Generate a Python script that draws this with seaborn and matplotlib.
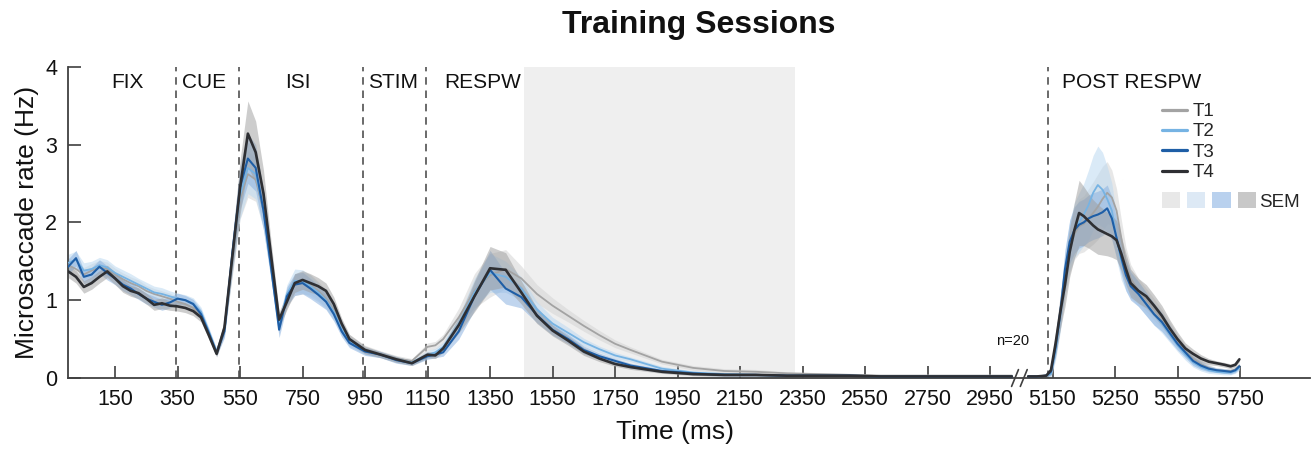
import numpy as np
import pandas as pd
import matplotlib
matplotlib.use("Agg")
import matplotlib.pyplot as plt
import matplotlib.transforms as mtransforms
import seaborn as sns
from matplotlib.lines import Line2D
from matplotlib.patches import Patch
from matplotlib.legend_handler import HandlerTuple

sns.set_style("ticks")
plt.rcParams["font.family"] = ["Liberation Sans", "DejaVu Sans"]

# ---------------- data ----------------
sessions = ["T1", "T2", "T3", "T4"]

# time before the axis break (ms)
t_pre = [0, 25, 50, 75, 100, 125, 150, 175, 200, 225, 250, 275, 300, 325, 350, 375, 400,
         425, 450, 475, 500, 525, 550, 575, 600, 625, 650, 675, 700, 725, 750, 775, 800,
         825, 850, 875, 900,
         950, 1000, 1050, 1100, 1150,
         1175, 1200,
         1250, 1300, 1350, 1400, 1450, 1500, 1550, 1600, 1650, 1700, 1750, 1800,
         1900, 2000, 2100, 2200, 2300, 2400, 2500, 2600, 2700, 2800, 2900,
         3020]

# positions after the axis break (axis units)
t_post = [3072, 3100, 3130,
          3145, 3160, 3175, 3190, 3205, 3220, 3235, 3250, 3265, 3280, 3295, 3310, 3325,
          3340, 3355, 3370, 3385, 3400,
          3425, 3450, 3475, 3500, 3525, 3550, 3575, 3600, 3625, 3650, 3675, 3700,
          3720, 3735, 3748]

T1_pre = [1.45, 1.40, 1.33, 1.38, 1.42, 1.40, 1.33, 1.27, 1.22, 1.18, 1.12, 1.08, 1.05, 1.02,
          0.98, 0.95, 0.90, 0.80, 0.57, 0.33, 0.65, 1.50, 2.30, 2.62, 2.55, 2.15, 1.45, 0.72,
          1.02, 1.20, 1.22, 1.20, 1.12, 1.02, 0.88, 0.66, 0.50,
          0.37, 0.31, 0.25, 0.22, 0.40,
          0.42, 0.50,
          0.78, 1.12, 1.32, 1.40, 1.28, 1.08, 0.93, 0.80, 0.67, 0.55, 0.44, 0.36,
          0.21, 0.13, 0.09, 0.08, 0.06, 0.05, 0.04, 0.03, 0.03, 0.03, 0.03,
          0.03]
T2_pre = [1.48, 1.52, 1.38, 1.40, 1.45, 1.42, 1.35, 1.30, 1.25, 1.20, 1.15, 1.10, 1.08, 1.05,
          1.02, 1.00, 0.96, 0.85, 0.60, 0.34, 0.62, 1.55, 2.35, 2.70, 2.62, 2.15, 1.40, 0.68,
          1.08, 1.25, 1.24, 1.18, 1.10, 1.00, 0.85, 0.63, 0.47,
          0.35, 0.30, 0.24, 0.20, 0.30,
          0.33, 0.40,
          0.70, 1.10, 1.35, 1.30, 1.15, 0.88, 0.70, 0.58, 0.46, 0.37, 0.29, 0.24,
          0.12, 0.07, 0.05, 0.04, 0.03, 0.03, 0.03, 0.02, 0.02, 0.02, 0.02,
          0.02]
T3_pre = [1.43, 1.54, 1.30, 1.33, 1.43, 1.35, 1.28, 1.20, 1.15, 1.08, 1.02, 0.98, 0.94, 0.97,
          1.02, 1.00, 0.95, 0.82, 0.58, 0.32, 0.60, 1.60, 2.45, 2.82, 2.70, 2.15, 1.40, 0.62,
          1.05, 1.20, 1.22, 1.15, 1.07, 0.98, 0.82, 0.60, 0.45,
          0.34, 0.30, 0.23, 0.19, 0.28,
          0.30, 0.33,
          0.60, 1.05, 1.39, 1.15, 1.04, 0.81, 0.62, 0.50, 0.36, 0.28, 0.22, 0.16,
          0.09, 0.06, 0.04, 0.04, 0.03, 0.03, 0.03, 0.02, 0.02, 0.02, 0.02,
          0.02]
T4_pre = [1.37, 1.30, 1.17, 1.22, 1.30, 1.37, 1.28, 1.18, 1.12, 1.09, 1.02, 0.94, 0.96, 0.93,
          0.92, 0.90, 0.86, 0.78, 0.55, 0.31, 0.65, 1.55, 2.45, 3.14, 2.90, 2.37, 1.55, 0.75,
          0.98, 1.22, 1.26, 1.22, 1.18, 1.12, 0.95, 0.70, 0.50,
          0.36, 0.30, 0.24, 0.19, 0.30,
          0.29, 0.38,
          0.68, 1.05, 1.41, 1.39, 1.10, 0.80, 0.61, 0.48, 0.34, 0.25, 0.18, 0.14,
          0.08, 0.05, 0.04, 0.04, 0.03, 0.03, 0.03, 0.02, 0.02, 0.02, 0.02,
          0.02]

T1_sem_pre = [0.10, 0.10, 0.09, 0.09, 0.09, 0.09, 0.08, 0.08, 0.08, 0.08, 0.07, 0.07, 0.07, 0.07,
              0.06, 0.06, 0.06, 0.06, 0.05, 0.04, 0.08, 0.20, 0.26, 0.30, 0.28, 0.22, 0.15, 0.10,
              0.12, 0.14, 0.14, 0.13, 0.12, 0.11, 0.09, 0.07, 0.06,
              0.05, 0.04, 0.04, 0.03, 0.05,
              0.05, 0.06,
              0.12, 0.22, 0.28, 0.25, 0.16, 0.12, 0.10, 0.08, 0.07, 0.06, 0.05, 0.04,
              0.03, 0.03, 0.03, 0.03, 0.02, 0.02, 0.02, 0.02, 0.02, 0.02, 0.02,
              0.02]
T2_sem_pre = [0.11, 0.11, 0.10, 0.10, 0.10, 0.10, 0.09, 0.09, 0.09, 0.08, 0.08, 0.08, 0.08, 0.07,
              0.07, 0.07, 0.07, 0.06, 0.05, 0.04, 0.08, 0.22, 0.30, 0.33, 0.32, 0.25, 0.16, 0.10,
              0.12, 0.15, 0.15, 0.14, 0.12, 0.11, 0.10, 0.08, 0.06,
              0.05, 0.04, 0.04, 0.03, 0.05,
              0.05, 0.06,
              0.10, 0.18, 0.25, 0.20, 0.15, 0.10, 0.08, 0.07, 0.05, 0.04, 0.04, 0.03,
              0.03, 0.02, 0.02, 0.02, 0.02, 0.02, 0.02, 0.02, 0.02, 0.02, 0.02,
              0.02]
T3_sem_pre = [0.10, 0.10, 0.09, 0.09, 0.09, 0.09, 0.08, 0.08, 0.08, 0.07, 0.07, 0.07, 0.07, 0.07,
              0.07, 0.06, 0.06, 0.06, 0.05, 0.04, 0.08, 0.20, 0.28, 0.32, 0.30, 0.25, 0.16, 0.10,
              0.12, 0.14, 0.14, 0.13, 0.12, 0.10, 0.09, 0.07, 0.06,
              0.05, 0.04, 0.04, 0.03, 0.04,
              0.04, 0.05,
              0.10, 0.18, 0.25, 0.20, 0.14, 0.10, 0.07, 0.06, 0.05, 0.04, 0.03, 0.03,
              0.02, 0.02, 0.02, 0.02, 0.02, 0.02, 0.02, 0.02, 0.02, 0.02, 0.02,
              0.02]
T4_sem_pre = [0.08, 0.08, 0.08, 0.08, 0.08, 0.08, 0.08, 0.08, 0.07, 0.07, 0.07, 0.07, 0.07, 0.06,
              0.06, 0.06, 0.06, 0.06, 0.05, 0.04, 0.08, 0.20, 0.35, 0.42, 0.40, 0.30, 0.18, 0.10,
              0.10, 0.12, 0.12, 0.12, 0.11, 0.10, 0.09, 0.07, 0.06,
              0.05, 0.04, 0.04, 0.03, 0.04,
              0.04, 0.05,
              0.10, 0.20, 0.28, 0.22, 0.15, 0.10, 0.07, 0.06, 0.05, 0.04, 0.03, 0.03,
              0.02, 0.02, 0.02, 0.02, 0.02, 0.02, 0.02, 0.02, 0.02, 0.02, 0.02,
              0.02]

T1_post = [0.02, 0.02, 0.03,
           0.06, 0.40, 0.82, 1.30, 1.65, 1.85, 1.95, 1.98, 2.05, 2.12, 2.20, 2.30, 2.38,
           2.32, 2.15, 1.80, 1.48, 1.28,
           1.12, 1.00, 0.88, 0.76, 0.62, 0.48, 0.35, 0.25, 0.18, 0.13, 0.10, 0.09,
           0.09, 0.11, 0.16]
T2_post = [0.02, 0.02, 0.03,
           0.05, 0.35, 0.80, 1.35, 1.70, 1.90, 2.00, 2.10, 2.22, 2.38, 2.48, 2.42, 2.30,
           2.15, 1.80, 1.50, 1.32, 1.20,
           1.08, 0.95, 0.82, 0.70, 0.56, 0.42, 0.30, 0.20, 0.14, 0.10, 0.08, 0.07,
           0.07, 0.09, 0.13]
T3_post = [0.02, 0.02, 0.03,
           0.08, 0.40, 0.85, 1.40, 1.75, 1.90, 1.97, 2.00, 2.05, 2.08, 2.10, 2.13, 2.18,
           2.05, 1.80, 1.55, 1.32, 1.18,
           1.08, 0.95, 0.82, 0.72, 0.58, 0.44, 0.33, 0.22, 0.16, 0.12, 0.10, 0.09,
           0.08, 0.10, 0.15]
T4_post = [0.02, 0.02, 0.03,
           0.10, 0.45, 0.85, 1.20, 1.62, 1.90, 2.12, 2.08, 2.02, 1.96, 1.91, 1.88, 1.85,
           1.82, 1.77, 1.60, 1.40, 1.22,
           1.12, 1.05, 0.93, 0.80, 0.64, 0.50, 0.38, 0.31, 0.25, 0.21, 0.19, 0.17,
           0.15, 0.17, 0.24]

T1_sem_post = [0.01, 0.01, 0.02,
               0.04, 0.12, 0.20, 0.26, 0.30, 0.33, 0.35, 0.36, 0.38, 0.40, 0.42, 0.42,
               0.40, 0.35, 0.28, 0.24, 0.20, 0.18,
               0.16, 0.15, 0.14, 0.12, 0.10, 0.08, 0.07, 0.06, 0.05, 0.04, 0.03, 0.03,
               0.03, 0.03, 0.03]
T2_sem_post = [0.01, 0.01, 0.02,
               0.04, 0.12, 0.20, 0.28, 0.32, 0.35, 0.38, 0.40, 0.45, 0.48, 0.50, 0.48,
               0.42, 0.35, 0.28, 0.24, 0.20, 0.18,
               0.16, 0.15, 0.14, 0.12, 0.10, 0.08, 0.07, 0.06, 0.05, 0.04, 0.03, 0.03,
               0.03, 0.03, 0.03]
T3_sem_post = [0.01, 0.01, 0.02,
               0.04, 0.12, 0.20, 0.25, 0.28, 0.30, 0.30, 0.30, 0.30, 0.30, 0.30, 0.30,
               0.30, 0.28, 0.25, 0.22, 0.20, 0.18,
               0.16, 0.15, 0.14, 0.12, 0.10, 0.08, 0.07, 0.06, 0.05, 0.04, 0.03, 0.03,
               0.03, 0.03, 0.03]
T4_sem_post = [0.01, 0.01, 0.02,
               0.05, 0.15, 0.22, 0.28, 0.32, 0.36, 0.42, 0.38, 0.35, 0.33, 0.32, 0.30,
               0.28, 0.27, 0.25, 0.22, 0.20, 0.18,
               0.16, 0.15, 0.14, 0.13, 0.11, 0.09, 0.07, 0.06, 0.05, 0.04, 0.03, 0.03,
               0.03, 0.03, 0.03]

pre_ticks = [150, 350, 550, 750, 950, 1150, 1350, 1550, 1750, 1950, 2150, 2350, 2550, 2750, 2950]
post_tick_pos = [3150, 3350, 3550, 3750]
post_tick_labels = ["5150", "5250", "5550", "5750"]

event_times = [345, 545, 945, 1145, 3135]
phase_names = ["FIX", "CUE", "ISI", "STIM", "RESPW", "POST RESPW"]
phase_centers = [188, 435, 734, 1038, 1326, 3403]
shade_span = (1458, 2326)
break_pos = [3030, 3058]

# ---------------- styles ----------------
line_colors = {"T1": "#a3a3a3", "T2": "#76b3e3", "T3": "#1e5ea6", "T4": "#2e2f33"}
line_widths = {"T1": 1.3, "T2": 1.3, "T3": 1.5, "T4": 1.9}
sem_colors = {"T1": "#d4d4d4", "T2": "#bcd9f1", "T3": "#8db3e0", "T4": "#9c9c9c"}
sem_alpha = {"T1": 0.55, "T2": 0.55, "T3": 0.55, "T4": 0.5}
legend_sem_colors = ["#e8e8e8", "#dde9f5", "#b9d1ee", "#c8c8c8"]

means = {"T1": (T1_pre, T1_post), "T2": (T2_pre, T2_post),
         "T3": (T3_pre, T3_post), "T4": (T4_pre, T4_post)}
sems = {"T1": (T1_sem_pre, T1_sem_post), "T2": (T2_sem_pre, T2_sem_post),
        "T3": (T3_sem_pre, T3_sem_post), "T4": (T4_sem_pre, T4_sem_post)}

frames = []
for s in sessions:
    for seg, t, m, e in [("pre", t_pre, means[s][0], sems[s][0]),
                         ("post", t_post, means[s][1], sems[s][1])]:
        assert len(t) == len(m) == len(e), (s, seg, len(t), len(m), len(e))
        frames.append(pd.DataFrame({"t": t, "rate": m, "err": e,
                                    "session": s, "segment": seg}))
df = pd.concat(frames, ignore_index=True)

# ---------------- figure ----------------
W, H = 1315, 451
fig = plt.figure(figsize=(W / 100, H / 100), dpi=100)
ax = fig.add_axes([68.2 / W, 1 - 378 / H, (1310 - 68.2) / W, (378 - 66.7) / H])

ax.axvspan(*shade_span, color="#efefef", lw=0, zorder=0)
for x in event_times:
    ax.axvline(x, color="#505050", ls=(0, (4.5, 3.5)), lw=1.2, zorder=1)

for s in sessions:
    for seg in ["pre", "post"]:
        d = df[(df["session"] == s) & (df["segment"] == seg)]
        ax.fill_between(d["t"], d["rate"] - d["err"], d["rate"] + d["err"],
                        color=sem_colors[s], alpha=sem_alpha[s], lw=0, zorder=2)

for i, s in enumerate(sessions):
    sns.lineplot(data=df[df["session"] == s], x="t", y="rate", units="segment",
                 estimator=None, color=line_colors[s], lw=line_widths[s],
                 legend=False, ax=ax, zorder=3 + i)

ax.set_xlim(0, 3974)
ax.set_ylim(0, 4)
ax.set_xticks(pre_ticks + post_tick_pos)
ax.set_xticklabels([str(v) for v in pre_ticks] + post_tick_labels)
ax.set_yticks([0, 1, 2, 3, 4])
ax.set_yticklabels(["0", "1", "2", "3", "4"])

for sp in ["top", "right"]:
    ax.spines[sp].set_visible(False)
for sp in ["left", "bottom"]:
    ax.spines[sp].set_color("#404040")
    ax.spines[sp].set_linewidth(1.3)
ax.tick_params(direction="in", length=9, width=1.2, color="#404040",
               labelcolor="#111111", labelsize=15.5, pad=8)

ax.set_xlabel("Time (ms)", fontsize=19, color="#111111")
ax.set_ylabel("Microsaccade rate (Hz)", fontsize=19, color="#111111")
ax.xaxis.set_label_coords((674.5 - 68.2) / 1241.8, (378 - 420) / 311.3)
ax.yaxis.set_label_coords((39 - 68.2) / 1241.8, 0.5)

# phase labels
for name, xc in zip(phase_names, phase_centers):
    ax.text(xc, 3.80, name, ha="center", va="center", fontsize=15, color="#111111", zorder=6)
ax.text(3023, 0.48, "n=20", ha="center", va="center", fontsize=10.5, color="#111111")

# axis break marks
trans = mtransforms.blended_transform_factory(ax.transData, ax.transAxes)
for bx in break_pos:
    ax.plot([bx - 11, bx + 11], [-0.027, 0.027], transform=trans, color="#404040",
            lw=1.2, clip_on=False, zorder=7)

# title
fig.text(698.5 / W, 1 - 25 / H, "Training Sessions", ha="center", va="center",
         fontsize=23, fontweight="bold", color="#111111")

# legends
handles = [Line2D([], [], color=line_colors[s], lw=2.3) for s in sessions]
leg1 = ax.legend(handles, sessions, loc="upper left",
                 bbox_to_anchor=((1162 - 68.2) / 1241.8, (378 - 103) / 311.3),
                 frameon=False, fontsize=13.5, handlelength=1.35, handletextpad=0.3,
                 labelspacing=0.17, borderpad=0, borderaxespad=0)
ax.add_artist(leg1)
sem_handle = tuple(Patch(facecolor=c, edgecolor="none") for c in legend_sem_colors)
leg2 = ax.legend([sem_handle], ["SEM"], loc="upper left",
                 bbox_to_anchor=((1162 - 68.2) / 1241.8, (378 - 192) / 311.3),
                 frameon=False, fontsize=13.5, handlelength=5.0, handleheight=0.95,
                 handletextpad=0.2, borderpad=0, borderaxespad=0,
                 handler_map={tuple: HandlerTuple(ndivide=None, pad=0.38)})

fig.savefig("out.png", dpi=100)
